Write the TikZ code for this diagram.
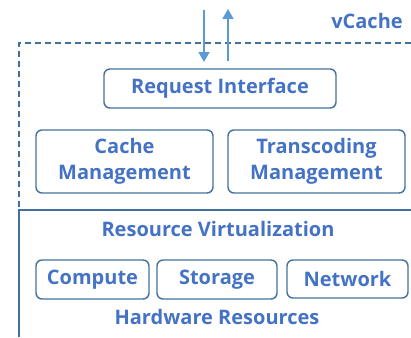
\documentclass[tikz,border=0pt]{standalone}
\usepackage{fontspec}
\setmainfont{Open Sans}
\usetikzlibrary{arrows.meta}
\definecolor{txt}{HTML}{4472C4}
\definecolor{edge}{HTML}{41719C}
\definecolor{arr}{HTML}{5B9BD5}
\tikzset{
  every node/.style={font=\fontsize{20}{26}\selectfont\bfseries, text=txt},
  box/.style={draw=edge, line width=1.4pt, rounded corners=6pt, align=center, inner sep=0pt},
  flow/.style={draw=arr, line width=1.8pt, -{Triangle[length=10pt,width=11pt]}},
  layer/.style={draw=edge, line width=1.3pt},
}
\begin{document}
\begin{tikzpicture}[x=1pt,y=-1pt]
\useasboundingbox (0,0) rectangle (411,337);
% frame lines
\coordinate (tl) at (19,43);
\coordinate (tr) at (411,43);
\coordinate (ml) at (19,210);
\coordinate (mr) at (411,210);
\coordinate (bl) at (19,337);
\draw[layer, dashed, dash pattern=on 6pt off 4pt] (tr) -- (tl) -- (ml);
\draw[layer] (mr) -- (ml) -- (bl);
\node (vc) at (367,21) {vCache};
% boxes
\node[box, minimum width=232pt, minimum height=39pt] (ri) at (220,88.5) {Request Interface};
\node[box, minimum width=177pt, minimum height=63pt] (cm) at (124.5,161.5) {Cache\\Management};
\node[box, minimum width=177pt, minimum height=63pt] (tm) at (316.5,161.5) {Transcoding\\Management};
\node (rv) at (218,229) {Resource Virtualization};
\node[box, minimum width=113pt, minimum height=39pt] (co) at (92.5,279.5) {Compute};
\node[box, minimum width=120pt, minimum height=39pt] (st) at (217,279.5) {Storage};
\node[box, minimum width=121pt, minimum height=38pt] (nw) at (347.5,279) {Network};
\node (hw) at (217,317) {Hardware Resources};
% arrows
\coordinate (a1s) at (204,10);
\coordinate (a1e) at (204,62);
\coordinate (a2s) at (228,61);
\coordinate (a2e) at (228,9);
\draw[flow] (a1s) -- (a1e);
\draw[flow] (a2s) -- (a2e);
\end{tikzpicture}
\end{document}
